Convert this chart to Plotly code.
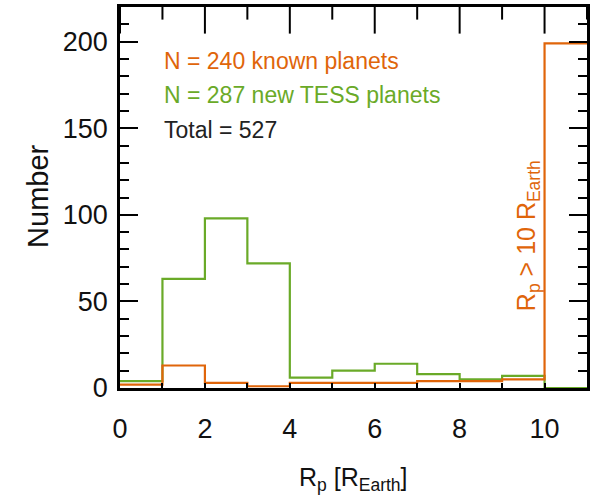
import plotly.graph_objects as go

# radius bins [R_Earth], last bin holds everything above 10
bin_edges = [0, 1, 2, 3, 4, 5, 6, 7, 8, 9, 10, 11]
known_counts = [2, 13, 3, 1, 3, 3, 3, 4, 4, 5, 199]
tess_counts = [4, 63, 98, 72, 6, 10, 14, 8, 5, 7, 0]

# tick positions along the x axis
x_major_ticks = [0, 2, 4, 6, 8, 10]
x_minor_ticks = [1, 3, 5, 7, 9, 11]

X_RANGE = [0, 11]
Y_RANGE = [0, 220]

ORANGE = '#e0650a'
GREEN = '#6aaa28'
FONT = 'Liberation Sans, Arial, Helvetica, sans-serif'


def step_trace(counts, color, name):
    # repeat the last count so the final bin gets its flat top
    return go.Scatter(x=bin_edges, y=counts + [counts[-1]], mode='lines',
                      line=dict(color=color, width=2.2, shape='hv'),
                      name=name, showlegend=False, hoverinfo='skip')


def top_ticks(xs, length):
    # vertical tick marks hanging down from the top frame (lower half survives the clip)
    return go.Scatter(x=xs, y=[Y_RANGE[1]] * len(xs), mode='markers', cliponaxis=True,
                      marker=dict(symbol='line-ns', size=2 * length,
                                  line=dict(color='black', width=2)),
                      showlegend=False, hoverinfo='skip')


fig = go.Figure()
fig.add_trace(step_trace(tess_counts, GREEN, 'new TESS planets'))
fig.add_trace(step_trace(known_counts, ORANGE, 'known planets'))
fig.add_trace(top_ticks(x_major_ticks, 19))
fig.add_trace(top_ticks(x_minor_ticks, 9))

fig.update_layout(
    width=592, height=497,
    margin=dict(l=120, r=2, t=7, b=109),
    paper_bgcolor='white', plot_bgcolor='white',
    font=dict(family=FONT, size=27, color='#111'),
    xaxis=dict(range=X_RANGE, tick0=0, dtick=2, ticks='inside',
               ticklen=5, tickwidth=2, tickcolor='black',
               minor=dict(dtick=1, ticks='inside', ticklen=5, tickwidth=2, tickcolor='black'),
               showline=True, linecolor='black', linewidth=2.5, mirror=True,
               showgrid=False, zeroline=False, ticklabelstandoff=15),
    yaxis=dict(range=Y_RANGE, tickvals=[0, 50, 100, 150, 200], ticks='inside',
               ticklen=18, tickwidth=2, tickcolor='black',
               minor=dict(dtick=10, ticks='inside', ticklen=9, tickwidth=2, tickcolor='black'),
               showline=True, linecolor='black', linewidth=2.5, mirror='ticks',
               showgrid=False, zeroline=False, ticklabelstandoff=4),
)

legend_lines = [
    ('N = 240 known planets', ORANGE, 189),
    ('N = 287 new TESS planets', GREEN, 169),
    ('Total = 527', '#222', 149),
]
for text, color, ypos in legend_lines:
    fig.add_annotation(x=1.0, y=ypos, xref='x', yref='y', text=text, showarrow=False,
                       xanchor='left', yanchor='middle',
                       font=dict(family=FONT, size=23, color=color))

fig.add_annotation(x=9.6, y=88, xref='x', yref='y',
                   text='R<sub>p</sub> > 10 R<sub>Earth</sub>', textangle=-90,
                   showarrow=False, font=dict(family=FONT, size=25, color=ORANGE))

fig.add_annotation(x=0.5, y=-0.239, xref='paper', yref='paper',
                   text='R<sub>p</sub> [R<sub>Earth</sub>]', showarrow=False,
                   yanchor='middle', font=dict(family=FONT, size=25, color='#111'))
fig.add_annotation(x=-0.213, y=0.503, xref='paper', yref='paper', text='Number',
                   textangle=-90, showarrow=False,
                   font=dict(family=FONT, size=29, color='#111'))

# drop the default 8px body margin so the figure fills the window exactly
fig.write_html('out.html', config={'displayModeBar': False},
               post_script="document.body.style.margin='0';document.body.style.overflow='hidden';")
